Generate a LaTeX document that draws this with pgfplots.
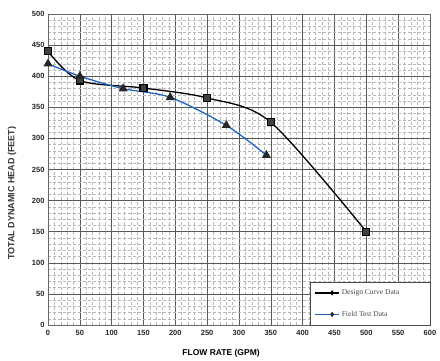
\documentclass[border=0pt]{standalone}
\usepackage{fontspec}
\setmainfont{Liberation Sans}
\newfontfamily\seriffont{Liberation Serif}
\usepackage{pgfplots}
\pgfplotsset{compat=1.18}
\definecolor{fieldblue}{RGB}{30,100,195}
\begin{document}
\begin{tikzpicture}
\begin{axis}[
  scale only axis, width=382pt, height=311pt,
  xmin=0, xmax=600, ymin=0, ymax=500,
  xtick distance=50, ytick distance=50,
  minor tick num=4,
  grid=both,
  major grid style={black!65, line width=0.6pt},
  minor grid style={black!28, line width=0.4pt, densely dashed},
  tick style={draw=none},
  axis line style={black!60},
  /pgf/number format/assume math mode=true,
  ticklabel style={font=\fontsize{7.5}{8}\selectfont\bfseries, text=black!85},
  xticklabel style={yshift=-2pt},
  xlabel={FLOW RATE (GPM)},
  ylabel={TOTAL DYNAMIC HEAD (FEET)},
  xlabel style={font=\fontsize{8.5}{9}\selectfont\bfseries, at={(axis description cs:0.453,0)}, anchor=center, yshift=-28pt},
  ylabel style={font=\fontsize{9}{10}\selectfont\bfseries, text=black!80, at={(axis description cs:0,0.424)}, anchor=center, yshift=36pt},
  legend style={at={(axis cs:600,0)}, anchor=south east, draw=black!70, fill=white,
    font=\seriffont\fontsize{7.5}{8}\selectfont, text=black!70,
    inner xsep=4pt, inner ysep=5pt, row sep=11pt},
  legend cell align=left,
  legend image code/.code={
    \draw[#1, mark=none] (0pt,0pt) -- (24pt,0pt);
    \draw[#1, only marks, mark=diamond*, mark size=1.6pt] plot coordinates {(17pt,0pt)};
  },
]
\addplot[black, line width=1.3pt, smooth, tension=0.5, mark=square*, mark size=3.5pt,
  mark options={fill=black!75, draw=black}]
  coordinates {(0,440) (50,393) (150,381) (250,365) (350,326) (500,150)};
\addlegendentry{\makebox[82pt][l]{Design Curve Data}}
\addplot[fieldblue, line width=1.3pt, smooth, tension=0.5, mark=triangle*, mark size=4pt,
  mark options={fill=black!85, draw=black!85}]
  coordinates {(0,420) (50,400) (118,380) (192,366) (280,321) (343,273)};
\addlegendentry{\makebox[82pt][l]{Field Test Data}}
\end{axis}
\pgfresetboundingbox
\path (-48pt,-35pt) rectangle (392pt,325pt);
\end{tikzpicture}
\end{document}
